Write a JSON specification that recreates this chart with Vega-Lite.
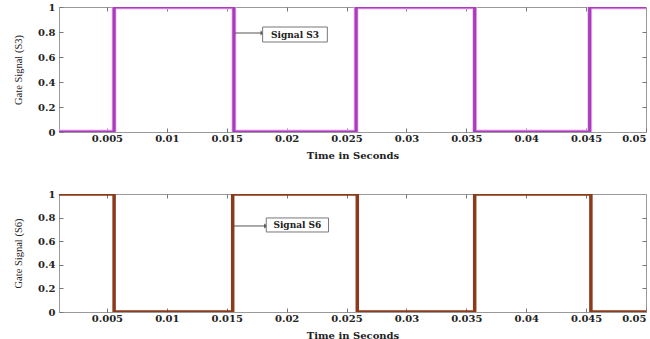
{
  "$schema": "https://vega.github.io/schema/vega-lite/v6.json",
  "padding": {"left": 13, "top": 1, "right": 0, "bottom": 0},
  "background": "white",
  "spacing": 27,
  "config": {
    "view": {"stroke": "#999999", "strokeWidth": 1},
    "axis": {
      "grid": false,
      "domain": false,
      "tickColor": "#777777",
      "tickSize": -4,
      "labelFont": "DejaVu Serif",
      "labelFontWeight": "bold",
      "labelFontSize": 10,
      "labelColor": "#222222",
      "titleColor": "#222222"
    }
  },
  "datasets": {
    "s3": [
      {"t": 0.001, "v": 0, "o": 1}, {"t": 0.0056, "v": 0, "o": 2}, {"t": 0.0056, "v": 1, "o": 3},
      {"t": 0.0156, "v": 1, "o": 4}, {"t": 0.0156, "v": 0, "o": 5}, {"t": 0.0258, "v": 0, "o": 6},
      {"t": 0.0258, "v": 1, "o": 7}, {"t": 0.0357, "v": 1, "o": 8}, {"t": 0.0357, "v": 0, "o": 9},
      {"t": 0.0453, "v": 0, "o": 10}, {"t": 0.0453, "v": 1, "o": 11}, {"t": 0.05, "v": 1, "o": 12}
    ],
    "s6": [
      {"t": 0.001, "v": 1, "o": 1}, {"t": 0.0056, "v": 1, "o": 2}, {"t": 0.0056, "v": 0, "o": 3},
      {"t": 0.0155, "v": 0, "o": 4}, {"t": 0.0155, "v": 1, "o": 5}, {"t": 0.0259, "v": 1, "o": 6},
      {"t": 0.0259, "v": 0, "o": 7}, {"t": 0.0357, "v": 0, "o": 8}, {"t": 0.0357, "v": 1, "o": 9},
      {"t": 0.0454, "v": 1, "o": 10}, {"t": 0.0454, "v": 0, "o": 11}, {"t": 0.05, "v": 0, "o": 12}
    ],
    "lab3": [{"x1": 0.0157, "x2": 0.0180, "y": 0.792, "bx1": 0.0180, "bx2": 0.0234, "by1": 0.84, "by2": 0.72, "tx": 0.0207, "ty": 0.78, "label": "Signal S3"}],
    "lab6": [{"x1": 0.0156, "x2": 0.0183, "y": 0.729, "bx1": 0.0183, "bx2": 0.0235, "by1": 0.797, "by2": 0.678, "tx": 0.0209, "ty": 0.737, "label": "Signal S6"}]
  },
  "vconcat": [
    {
      "width": 587,
      "height": 125,
      "resolve": {"axis": {"x": "independent", "y": "independent"}},
      "layer": [
        {
          "data": {"name": "s3"},
          "mark": {"type": "line", "color": "#f2c2f4", "strokeWidth": 5, "clip": true},
          "encoding": {
            "x": {"field": "t", "type": "quantitative", "scale": {"domain": [0.001, 0.05], "nice": false, "zero": false},
                  "axis": {"values": [0.005, 0.01, 0.015, 0.02, 0.025, 0.03, 0.035, 0.04, 0.045, 0.05], "format": "~g", "labelPadding": 5,
                           "title": "Time in Seconds", "titleFont": "DejaVu Serif", "titleFontWeight": "bold", "titleFontSize": 10, "titlePadding": 7}},
            "y": {"field": "v", "type": "quantitative", "scale": {"domain": [0, 1], "nice": false},
                  "axis": {"values": [0, 0.2, 0.4, 0.6, 0.8, 1], "format": "~g", "labelPadding": 8,
                           "title": "Gate Signal (S3)", "titleFont": "Liberation Serif", "titleFontWeight": "normal", "titleFontSize": 10.5, "titlePadding": 14}},
            "order": {"field": "o", "type": "quantitative"}
          }
        },
        {
          "data": {"name": "s3"},
          "mark": {"type": "line", "color": "#a83cbc", "strokeWidth": 3.2, "clip": true},
          "encoding": {
            "x": {"field": "t", "type": "quantitative", "axis": null},
            "y": {"field": "v", "type": "quantitative", "axis": null},
            "order": {"field": "o", "type": "quantitative"}
          }
        },
        {
          "data": {"name": "lab3"},
          "mark": {"type": "rule", "color": "#555555", "strokeWidth": 1},
          "encoding": {
            "x": {"field": "x1", "type": "quantitative", "axis": {"orient": "top", "values": [0.005, 0.01, 0.015, 0.02, 0.025, 0.03, 0.035, 0.04, 0.045], "labels": false, "title": null}},
            "x2": {"field": "x2"},
            "y": {"field": "y", "type": "quantitative", "axis": {"orient": "right", "values": [0.2, 0.4, 0.6, 0.8], "labels": false, "title": null}}
          }
        },
        {
          "data": {"name": "lab3"},
          "mark": {"type": "point", "shape": "triangle-right", "filled": true, "color": "#333333", "size": 25},
          "encoding": {
            "x": {"field": "x2", "type": "quantitative", "axis": null},
            "y": {"field": "y", "type": "quantitative", "axis": null}
          }
        },
        {
          "data": {"name": "lab3"},
          "mark": {"type": "rect", "fill": "white", "stroke": "#777777", "strokeWidth": 1},
          "encoding": {
            "x": {"field": "bx1", "type": "quantitative", "axis": null},
            "x2": {"field": "bx2"},
            "y": {"field": "by1", "type": "quantitative", "axis": null},
            "y2": {"field": "by2"}
          }
        },
        {
          "data": {"name": "lab3"},
          "mark": {"type": "text", "font": "DejaVu Serif", "fontWeight": "bold", "fontSize": 9, "color": "#222222"},
          "encoding": {
            "x": {"field": "tx", "type": "quantitative", "axis": null},
            "y": {"field": "ty", "type": "quantitative", "axis": null},
            "text": {"field": "label"}
          }
        }
      ]
    },
    {
      "width": 587,
      "height": 118,
      "resolve": {"axis": {"x": "independent", "y": "independent"}},
      "layer": [
        {
          "data": {"name": "s6"},
          "mark": {"type": "line", "color": "#8b3a1a", "strokeWidth": 3.5, "clip": true},
          "encoding": {
            "x": {"field": "t", "type": "quantitative", "scale": {"domain": [0.001, 0.05], "nice": false, "zero": false},
                  "axis": {"values": [0.005, 0.01, 0.015, 0.02, 0.025, 0.03, 0.035, 0.04, 0.045, 0.05], "format": "~g", "labelPadding": 5,
                           "title": "Time in Seconds", "titleFont": "DejaVu Serif", "titleFontWeight": "bold", "titleFontSize": 10, "titlePadding": 7}},
            "y": {"field": "v", "type": "quantitative", "scale": {"domain": [0, 1], "nice": false},
                  "axis": {"values": [0, 0.2, 0.4, 0.6, 0.8, 1], "format": "~g", "labelPadding": 8,
                           "title": "Gate Signal (S6)", "titleFont": "Liberation Serif", "titleFontWeight": "normal", "titleFontSize": 10.5, "titlePadding": 14}},
            "order": {"field": "o", "type": "quantitative"}
          }
        },
        {
          "data": {"name": "lab6"},
          "mark": {"type": "rule", "color": "#555555", "strokeWidth": 1},
          "encoding": {
            "x": {"field": "x1", "type": "quantitative", "axis": {"orient": "top", "values": [0.005, 0.01, 0.015, 0.02, 0.025, 0.03, 0.035, 0.04, 0.045], "labels": false, "title": null}},
            "x2": {"field": "x2"},
            "y": {"field": "y", "type": "quantitative", "axis": {"orient": "right", "values": [0.2, 0.4, 0.6, 0.8], "labels": false, "title": null}}
          }
        },
        {
          "data": {"name": "lab6"},
          "mark": {"type": "point", "shape": "triangle-right", "filled": true, "color": "#333333", "size": 25},
          "encoding": {
            "x": {"field": "x2", "type": "quantitative", "axis": null},
            "y": {"field": "y", "type": "quantitative", "axis": null}
          }
        },
        {
          "data": {"name": "lab6"},
          "mark": {"type": "rect", "fill": "white", "stroke": "#777777", "strokeWidth": 1},
          "encoding": {
            "x": {"field": "bx1", "type": "quantitative", "axis": null},
            "x2": {"field": "bx2"},
            "y": {"field": "by1", "type": "quantitative", "axis": null},
            "y2": {"field": "by2"}
          }
        },
        {
          "data": {"name": "lab6"},
          "mark": {"type": "text", "font": "DejaVu Serif", "fontWeight": "bold", "fontSize": 9, "color": "#222222"},
          "encoding": {
            "x": {"field": "tx", "type": "quantitative", "axis": null},
            "y": {"field": "ty", "type": "quantitative", "axis": null},
            "text": {"field": "label"}
          }
        }
      ]
    }
  ]
}
